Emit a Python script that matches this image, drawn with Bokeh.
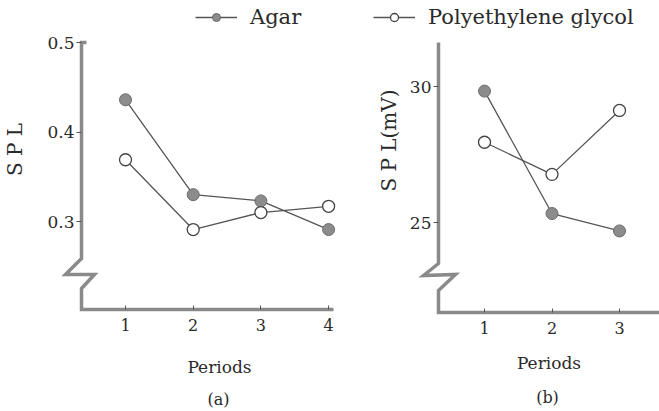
from bokeh.plotting import figure
from bokeh.models import Range1d, FixedTicker, Legend, LegendItem, Label, LinearAxis
from bokeh.embed import file_html
from bokeh.resources import INLINE

# ---- data ----
periods_a = [1, 2, 3, 4]
agar_a = [0.436, 0.330, 0.323, 0.291]
peg_a = [0.369, 0.291, 0.310, 0.317]

periods_b = [1, 2, 3]
agar_b = [29.83, 25.33, 24.69]
peg_b = [27.95, 26.77, 29.12]

yticks_a = [0.3, 0.4, 0.5]
yticks_b = [25, 30]
xticks_a = [1, 2, 3, 4]
xticks_b = [1, 2, 3]

series_labels = ["Agar", "Polyethylene glycol"]
ylabel_a = "S P L"
ylabel_b = "S P L(mV)"
xlabel = "Periods"
captions = ["(a)", "(b)"]

# ---- style ----
FONT = "DejaVu Serif"
TXT = "#2a2a2a"
AXC = "#8a8a8a"
LINEC = "#555555"
FILLC = "#8c8c8c"
W, H = 659, 411

# canvas-pixel -> data helpers for placing the two panels (layout only)
def ax_x(px):
    return 1 + (px - 125) / 67.7

def ax_y(py):
    return 0.3 + (221 - py) / 895.0

def bx_x(px):
    return 1 + (px - 484) / 67.5

def bx_y(py):
    return 25 + (222 - py) / 27.2


p = figure(width=W, height=H, output_backend="svg", toolbar_location=None,
           x_range=Range1d(ax_x(0), ax_x(W)), y_range=Range1d(ax_y(H), ax_y(0)),
           min_border=0, min_border_left=0, min_border_right=0,
           min_border_top=0, min_border_bottom=0)
p.extra_x_ranges = {"b": Range1d(bx_x(0), bx_x(W))}
p.extra_y_ranges = {"b": Range1d(bx_y(H), bx_y(0))}
p.grid.visible = False
p.outline_line_color = None
p.background_fill_color = "white"
p.border_fill_color = "white"


def style_y(ax, ticks, label, standoff):
    ax.ticker = FixedTicker(ticks=ticks)
    ax.axis_line_color = None
    ax.major_tick_out = 5
    ax.major_tick_in = 0
    ax.minor_tick_out = 0
    ax.minor_tick_in = 0
    ax.major_tick_line_color = LINEC
    ax.major_label_standoff = 2
    ax.major_label_text_font = FONT
    ax.major_label_text_font_size = "17px"
    ax.major_label_text_color = TXT
    ax.axis_label = label
    ax.axis_label_text_font = FONT
    ax.axis_label_text_font_size = "20px"
    ax.axis_label_text_font_style = "normal"
    ax.axis_label_text_color = TXT
    ax.axis_label_standoff = standoff


def style_x(ax, ticks, standoff):
    ax.ticker = FixedTicker(ticks=ticks)
    ax.axis_line_color = None
    ax.major_tick_in = 4
    ax.major_tick_out = 0
    ax.minor_tick_out = 0
    ax.minor_tick_in = 0
    ax.major_tick_line_color = LINEC
    ax.major_label_standoff = 9
    ax.major_label_text_font = FONT
    ax.major_label_text_font_size = "16px"
    ax.major_label_text_color = TXT
    ax.axis_label = xlabel
    ax.axis_label_text_font = FONT
    ax.axis_label_text_font_size = "17px"
    ax.axis_label_text_font_style = "normal"
    ax.axis_label_text_color = TXT
    ax.axis_label_standoff = standoff


# panel (a) axes (default ranges)
ya = p.yaxis[0]
ya.fixed_location = ax_x(81)
ya.bounds = (ax_y(258), ax_y(40))
style_y(ya, yticks_a, ylabel_a, 17)

xa = p.xaxis[0]
xa.fixed_location = ax_y(309)
xa.bounds = (ax_x(81), ax_x(357))
style_x(xa, xticks_a, 23)

# panel (b) axes (extra ranges)
yb = LinearAxis(x_range_name="b", y_range_name="b", fixed_location=bx_x(438),
                bounds=(bx_y(260), bx_y(20)))
style_y(yb, yticks_b, ylabel_b, 6)
p.add_layout(yb, "left")

xb = LinearAxis(x_range_name="b", y_range_name="b", fixed_location=bx_y(312),
                bounds=(bx_x(438), bx_x(660)))
style_x(xb, xticks_b, 16)
p.add_layout(xb, "below")


def axis_path(pts, fx, fy, rn):
    xs = [fx(a) for a, b in pts]
    ys = [fy(b) for a, b in pts]
    kw = {} if rn is None else dict(x_range_name=rn, y_range_name=rn)
    p.line(xs, ys, line_color=AXC, line_width=3.5, line_join="miter", **kw)


axis_path([(86, 42), (81, 42), (81, 258), (65, 274), (94, 274), (81, 288), (81, 309), (333, 309)],
          ax_x, ax_y, None)
axis_path([(438, 42), (438, 263), (423, 275), (455, 274), (438, 290), (438, 312), (659, 312)],
          bx_x, bx_y, "b")


def add_series(xs, ys, filled, rn=None):
    kw = {} if rn is None else dict(x_range_name=rn, y_range_name=rn)
    ln = p.line(xs, ys, line_color=LINEC, line_width=1.3, **kw)
    if filled:
        sc = p.scatter(xs, ys, size=12, fill_color=FILLC, line_color="#6a6a6a",
                       line_width=1, **kw)
    else:
        sc = p.scatter(xs, ys, size=12, fill_color="white", line_color="#444444",
                       line_width=1.3, **kw)
    return ln, sc


la1, sa1 = add_series(periods_a, agar_a, True)
la2, sa2 = add_series(periods_a, peg_a, False)
lb1, sb1 = add_series(periods_b, agar_b, True, "b")
lb2, sb2 = add_series(periods_b, peg_b, False, "b")


def make_legend(label, rends, x0):
    return Legend(items=[LegendItem(label=label, renderers=list(rends))],
                  location=(x0, H - 7 - 22),
                  orientation="horizontal", glyph_width=42, glyph_height=20,
                  label_height=20, label_standoff=13, padding=0, margin=0, spacing=0,
                  border_line_alpha=0, background_fill_alpha=0,
                  label_text_font=FONT, label_text_font_size="21px",
                  label_text_color=TXT)


p.add_layout(make_legend(series_labels[0], [la1, sa1], 195))
p.add_layout(make_legend(series_labels[1], [la2, sa2], 373))

p.add_layout(Label(x=ax_x(218), y=ax_y(399), text=captions[0],
                   text_align="center", text_baseline="middle", text_font=FONT,
                   text_font_size="16px", text_color=TXT))
p.add_layout(Label(x=bx_x(547), y=bx_y(397), text=captions[1],
                   x_range_name="b", y_range_name="b",
                   text_align="center", text_baseline="middle", text_font=FONT,
                   text_font_size="16px", text_color=TXT))

open("out.html", "w").write(file_html(p, INLINE))
